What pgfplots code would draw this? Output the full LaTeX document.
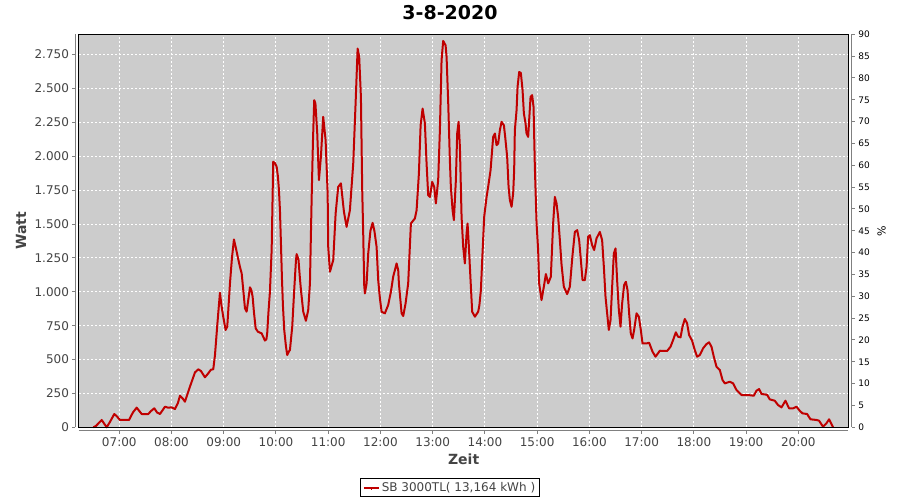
\documentclass[border=0pt]{standalone}
\usepackage{fontspec}
\setmainfont{DejaVu Sans}
\usepackage{pgfplots}
\pgfplotsset{compat=1.18}
\definecolor{plotbg}{RGB}{204,204,204}
\definecolor{linered}{RGB}{192,0,0}
\definecolor{axgray}{RGB}{128,128,128}
\definecolor{txtgray}{RGB}{68,68,68}
\pgfplotstableread{
h w
6.502 0
6.554 10
6.663 54
6.759 0
6.822 40
6.904 98
6.956 80
7.013 54
7.109 54
7.186 54
7.262 110
7.333 145
7.429 98
7.555 98
7.607 120
7.670 140
7.722 110
7.779 98
7.875 152
7.932 145
8.003 147
8.066 135
8.123 180
8.162 233
8.219 210
8.257 189
8.353 300
8.449 405
8.512 428
8.564 415
8.640 369
8.703 398
8.755 425
8.799 428
8.832 533
8.876 754
8.927 993
8.956 900
8.990 816
9.036 718
9.067 742
9.119 1062
9.157 1250
9.195 1386
9.234 1320
9.272 1250
9.310 1184
9.343 1136
9.377 1000
9.406 878
9.438 853
9.473 950
9.502 1033
9.530 1010
9.553 963
9.578 850
9.611 730
9.655 705
9.725 693
9.789 640
9.817 650
9.833 700
9.856 850
9.884 1000
9.917 1308
9.947 1959
9.980 1950
10.013 1922
10.037 1850
10.057 1750
10.076 1600
10.095 1357
10.114 1100
10.133 900
10.158 718
10.190 600
10.215 533
10.248 560
10.267 570
10.311 742
10.349 1013
10.382 1230
10.395 1278
10.430 1240
10.458 1100
10.478 1013
10.522 853
10.573 786
10.617 865
10.650 1062
10.682 1676
10.707 2100
10.732 2414
10.755 2390
10.790 2168
10.822 1824
10.860 1996
10.904 2291
10.950 2119
10.989 1726
11.000 1332
11.033 1148
11.096 1234
11.142 1578
11.191 1774
11.243 1800
11.301 1590
11.352 1479
11.415 1602
11.479 1947
11.524 2389
11.563 2795
11.593 2733
11.626 2438
11.651 1750
11.670 1431
11.689 1050
11.702 988
11.735 1062
11.766 1283
11.808 1450
11.850 1509
11.884 1450
11.926 1332
11.957 1086
11.990 950
12.022 853
12.085 841
12.148 902
12.200 1000
12.244 1111
12.309 1209
12.340 1160
12.353 1062
12.405 841
12.436 821
12.481 914
12.531 1062
12.554 1258
12.583 1504
12.659 1541
12.692 1602
12.736 1873
12.769 2229
12.807 2352
12.851 2242
12.883 1947
12.914 1713
12.947 1700
12.991 1811
13.029 1774
13.061 1652
13.105 1824
13.138 2192
13.170 2709
13.201 2851
13.247 2819
13.266 2733
13.297 2400
13.329 1971
13.348 1774
13.381 1602
13.406 1529
13.444 1824
13.469 2168
13.496 2254
13.521 2069
13.553 1553
13.584 1332
13.616 1209
13.649 1431
13.668 1504
13.693 1332
13.712 1184
13.756 853
13.808 816
13.871 853
13.894 900
13.923 1013
13.951 1258
13.986 1553
14.032 1700
14.062 1774
14.108 1897
14.158 2143
14.191 2168
14.223 2082
14.254 2094
14.286 2192
14.319 2254
14.363 2229
14.388 2143
14.426 1996
14.453 1774
14.478 1676
14.510 1627
14.541 1726
14.560 1897
14.573 2192
14.606 2340
14.625 2512
14.656 2622
14.688 2615
14.721 2487
14.746 2316
14.778 2242
14.797 2168
14.828 2143
14.847 2266
14.874 2438
14.904 2451
14.931 2364
14.956 1922
14.989 1504
15.019 1308
15.038 1062
15.084 939
15.128 1037
15.167 1131
15.211 1062
15.262 1111
15.306 1504
15.339 1700
15.371 1652
15.402 1553
15.435 1381
15.467 1200
15.511 1037
15.574 983
15.626 1037
15.674 1258
15.722 1442
15.766 1455
15.804 1381
15.837 1234
15.869 1086
15.913 1086
15.946 1184
15.976 1406
16.009 1418
16.053 1344
16.091 1308
16.137 1394
16.200 1442
16.244 1381
16.277 1184
16.309 963
16.340 841
16.372 718
16.405 791
16.436 1037
16.468 1283
16.501 1320
16.531 1086
16.564 865
16.596 742
16.627 914
16.665 1049
16.698 1074
16.730 1013
16.761 841
16.793 693
16.826 656
16.857 718
16.903 841
16.947 816
16.985 718
17.017 619
17.094 619
17.144 624
17.209 558
17.266 521
17.349 565
17.488 563
17.553 594
17.603 644
17.655 701
17.699 668
17.745 664
17.783 742
17.827 799
17.871 767
17.909 681
17.967 639
18.018 570
18.062 521
18.114 533
18.177 583
18.242 614
18.292 627
18.338 594
18.382 521
18.434 447
18.497 423
18.549 349
18.593 324
18.688 336
18.751 324
18.817 275
18.912 238
19.039 238
19.148 233
19.199 270
19.249 282
19.295 246
19.402 240
19.454 206
19.549 196
19.613 164
19.678 147
19.754 196
19.823 140
19.900 140
19.965 152
20.028 122
20.080 103
20.168 98
20.233 59
20.348 54
20.397 49
20.474 4
20.539 30
20.589 59
20.665 0
}\power
\begin{document}
\begin{tikzpicture}
\path[use as bounding box] (-79pt,-72.7pt) rectangle (821pt,427.3pt);
\begin{axis}[
  at={(0pt,0pt)}, anchor=south west,
  scale only axis, width=769.3pt, height=393pt,
  xmin=6.2287, xmax=20.957, ymin=0, ymax=2900,
  axis x line*=bottom, axis y line*=left,
  axis x line shift=3.5pt, axis y line shift=3.5pt,
  axis line style={axgray, line width=1pt},
  axis background/.style={fill=plotbg},
  xtick={7,8,9,10,11,12,13,14,15,16,17,18,19,20},
  xticklabels={07:00,08:00,09:00,10:00,11:00,12:00,13:00,14:00,15:00,16:00,17:00,18:00,19:00,20:00},
  ytick={0,250,500,750,1000,1250,1500,1750,2000,2250,2500,2750},
  yticklabels={0,250,500,750,1.000,1.250,1.500,1.750,2.000,2.250,2.500,2.750},
  tick align=outside, major tick length=3pt,
  tick style={axgray, line width=1pt},
  grid=major,
  grid style={white, line width=1pt, dash pattern=on 2pt off 2pt},
  ticklabel style={font=\fontsize{12}{14}\selectfont, text=txtgray},
  title={3-8-2020},
  title style={font=\bfseries\fontsize{19}{22}\selectfont, text=black, at={(axis description cs:0.48225,1.040)}, anchor=center},
  xlabel={Zeit},
  xlabel style={font=\bfseries\fontsize{14}{16}\selectfont, text=txtgray, at={(axis description cs:0.5,-0.0807)}, anchor=center},
  ylabel={Watt},
  ylabel style={font=\bfseries\fontsize{14}{16}\selectfont, text=txtgray, at={(axis description cs:-0.0754,0.5)}, anchor=center},
  legend style={at={(axis description cs:0.48225,-0.1539)}, anchor=center, draw=black, line width=1pt, fill=white,
    font=\fontsize{12}{14}\selectfont, text=txtgray, inner xsep=2pt, inner ysep=1.5pt},
  legend image code/.code={
    \draw[#1] (0pt,0pt) -- (15pt,0pt);
    \draw[#1, line width=1pt] (7.5pt,0pt) -- (7.5pt,-2.5pt);
  },
  clip=false,
]
\addplot[linered, line width=2pt, line join=round] table[x=h, y=w] {\power};
\addlegendentry{SB 3000TL( 13,164 kWh )}
\draw[black, line width=1pt] (rel axis cs:0,0) rectangle (rel axis cs:1,1);
\end{axis}
\begin{axis}[
  at={(0pt,0pt)}, anchor=south west,
  scale only axis, width=769.3pt, height=393pt,
  xmin=6.2287, xmax=20.957, ymin=0, ymax=90,
  axis x line=none, axis y line*=right,
  axis y line shift=3.5pt,
  axis line style={axgray, line width=1pt},
  ytick={0,5,10,15,20,25,30,35,40,45,50,55,60,65,70,75,80,85,90},
  tick align=outside, major tick length=3pt,
  tick style={axgray, line width=1pt},
  yticklabel style={font=\fontsize{9}{11}\selectfont, text=black, /pgf/number format/assume math mode=true},
  ylabel={\%},
  ylabel style={font=\fontsize{11}{13}\selectfont, text=black, at={(axis description cs:1.0434,0.5)}, anchor=center},
]
\addplot[draw=none] coordinates {(7,0)};
\end{axis}
\end{tikzpicture}
\end{document}
